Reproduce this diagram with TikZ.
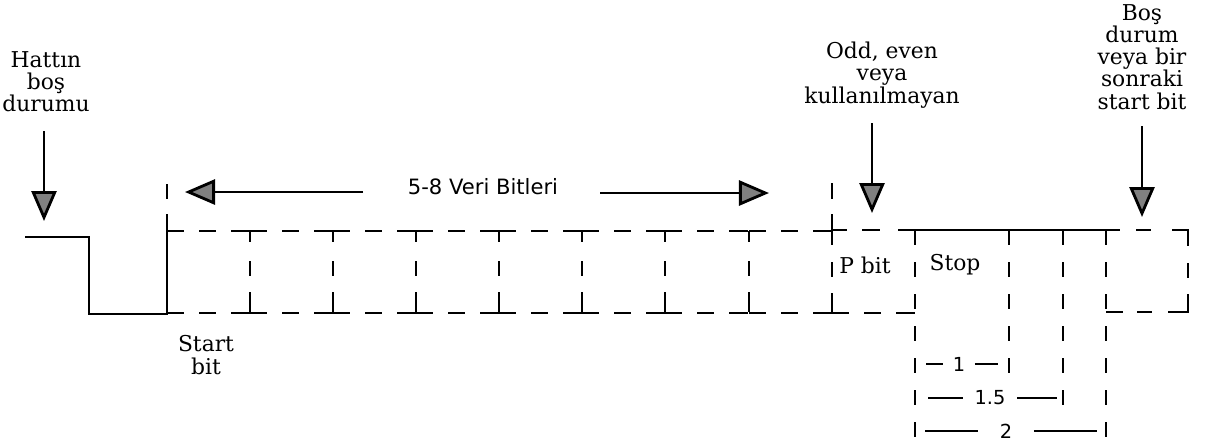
\documentclass[tikz,border=0pt]{standalone}
\usepackage{fontspec}
\setmainfont{DejaVu Serif}
\setsansfont{DejaVu Sans}
\usetikzlibrary{arrows.meta}

\begin{document}
\begin{tikzpicture}[x=0.01cm, y=-0.01cm,
    sig/.style={line width=0.8pt},
    pointer/.style={line width=0.8pt, -{Triangle[length=0.3cm, width=0.25cm, fill=black!50]}},
    lbl/.style={align=center, inner sep=0pt, font=\fontsize{6.2}{6.3}\selectfont},
    numlbl/.style={inner ysep=0pt, font=\sffamily\fontsize{5.5}{6}\selectfont},
    bitdash/.style={sig, dash pattern=on 0.17cm off 0.15cm on 0.17cm off 0.15cm on 0.19cm},
    tickdash/.style={sig, dash pattern=on 0.11cm off 0.19cm on 0.15cm off 0.16cm on 0.2cm},
    longdash/.style={sig, dash pattern=on 0.15cm off 0.17cm}]
        \useasboundingbox (0,0) rectangle (1209,444);

        % labels
        \node[lbl] (idle) at (46,82) {Hattın\\boş\\durumu};
        \node[lbl] (parity) at (882,75) {Odd, even\\veya\\kullanılmayan};
        \node[lbl] (next) at (1142,57) {Boş\\durum\\veya bir\\sonraki\\start bit};
        \node[lbl] (startbit) at (206,355) {Start\\bit};
        \node[lbl] (pbit) at (865,265) {P bit};
        \node[lbl] (stop) at (955,265) {Stop};
        \node[inner sep=0pt, font=\sffamily\fontsize{6}{7}\selectfont] (veri) at (483,187) {5-8 Veri Bitleri};

        % pointers
        \coordinate (idletop) at (44,131);
        \coordinate (idletip) at (44,221);
        \coordinate (paritytop) at (872,123);
        \coordinate (paritytip) at (872,213);
        \coordinate (nexttop) at (1142,126);
        \coordinate (nexttip) at (1142,217);
        \coordinate (dataLtail) at (363,192);
        \coordinate (dataLtip) at (185,192);
        \coordinate (dataRtail) at (600,193);
        \coordinate (dataRtip) at (769,193);
        \draw[pointer] (idletop) -- (idletip);
        \draw[pointer] (paritytop) -- (paritytip);
        \draw[pointer] (nexttop) -- (nexttip);
        \draw[pointer] (dataLtail) -- (dataLtip);
        \draw[pointer] (dataRtail) -- (dataRtip);

        % idle line and start bit
        \draw[sig] (25,237) -- (89,237) -- (89,314) -- (167,314) -- (167,214);
        \draw[sig] (167,184) -- (167,199);

        % data bits
        \foreach \x in {167,250,333,416,499,582,665,749} {
            \draw[bitdash] (\x,231) -- ++(83,0);
            \draw[bitdash] (\x,313) -- ++(83,0);
        }
        \foreach \x in {250,333,416,499,582,665,749}
            \draw[tickdash] (\x,231) -- (\x,313);
        \draw[sig, dash pattern=on 0.16cm off 0.15cm on 0.31cm off 0.17cm on 0.15cm off 0.16cm on 0.2cm] (832,183) -- (832,313);

        % parity bit
        \draw[sig, dash pattern=on 0.15cm off 0.15cm on 0.18cm off 0.18cm] (832,230) -- (898,230);
        \draw[bitdash] (832,313) -- (915,313);

        % stop bits
        \draw[sig] (898,230) -- (1120,230);
        \draw[longdash] (915,230) -- (915,438);
        \draw[longdash] (1009,230) -- (1009,374);
        \draw[longdash] (1063,230) -- (1063,406);
        \draw[longdash] (1106,230) -- (1106,438);
        \draw[sig, dash pattern=on 0.14cm off 0.16cm on 0.15cm off 0.21cm on 0.32cm off 0.17cm on 0.15cm off 0.16cm on 0.38cm off 0.16cm on 0.15cm off 0.14cm on 0.17cm] (1106,230) -- (1188,230) -- (1188,312) -- (1106,312);

        % stop lengths
        \node[numlbl, inner xsep=0.09cm] (one) at (959,364) {1};
        \node[numlbl, inner xsep=0.11cm] (onehalf) at (990,398) {1.5};
        \node[numlbl, inner xsep=0.21cm] (two) at (1006,431) {2};
        \coordinate (oneL) at (926,364);
        \coordinate (oneR) at (998,364);
        \coordinate (onehalfL) at (928,398);
        \coordinate (onehalfR) at (1057,398);
        \coordinate (twoL) at (925,431);
        \coordinate (twoR) at (1097,431);
        \draw[sig] (oneL) -- (one);
        \draw[sig] (one) -- (oneR);
        \draw[sig] (onehalfL) -- (onehalf);
        \draw[sig] (onehalf) -- (onehalfR);
        \draw[sig] (twoL) -- (two);
        \draw[sig] (two) -- (twoR);
\end{tikzpicture}
\end{document}
